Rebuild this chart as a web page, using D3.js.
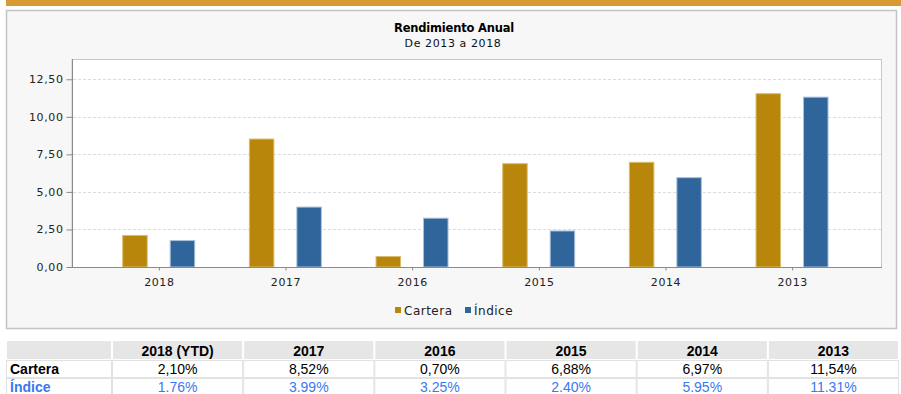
<!DOCTYPE html>
<html>
<head>
<meta charset="utf-8">
<script src="https://cdn.jsdelivr.net/npm/d3@7"></script>
<style>
  html, body { margin: 0; padding: 0; background: #ffffff; }
  svg { display: block; }
  .axis text { font-family: "DejaVu Sans", sans-serif; font-size: 11px; letter-spacing: 0.6px; fill: #222; }
</style>
</head>
<body>
<svg id="chart" width="901" height="394"></svg>
<script>
// Annual returns, portfolio vs. benchmark
const years = ["2018", "2017", "2016", "2015", "2014", "2013"];
const tableHeaders = ["2018 (YTD)", "2017", "2016", "2015", "2014", "2013"];
const series = ["Cartera", "Índice"];
const cartera = [2.10, 8.52, 0.70, 6.88, 6.97, 11.54];
const indice = [1.76, 3.99, 3.25, 2.40, 5.95, 11.31];
const yTicks = [0, 2.5, 5, 7.5, 10, 12.5];
const carteraLabels = ["2,10%", "8,52%", "0,70%", "6,88%", "6,97%", "11,54%"];
const indiceLabels = ["1.76%", "3.99%", "3.25%", "2.40%", "5.95%", "11.31%"];

const colors = { "Cartera": "#b8860b", "Índice": "#30659b" };
const strokes = { "Cartera": "#d9bc6e", "Índice": "#a9c0da" };

const svg = d3.select("#chart");

// header strip
svg.append("rect").attr("x", 6).attr("y", 0).attr("width", 895).attr("height", 6).attr("fill", "#d89b33");

// chart panel
svg.append("rect").attr("x", 6.5).attr("y", 10.5).attr("width", 890).attr("height", 318)
  .attr("fill", "#f7f7f7").attr("stroke", "#c4c4c4").attr("stroke-width", 1.5);

// titles
svg.append("text").attr("x", 454).attr("y", 32).attr("text-anchor", "middle")
  .style("font-family", "DejaVu Sans, sans-serif").style("font-size", "11.5px").style("font-weight", "bold")
  .style("letter-spacing", "-0.2px").attr("fill", "#000").text("Rendimiento Anual");
svg.append("text").attr("x", 453).attr("y", 47).attr("text-anchor", "middle")
  .style("font-family", "DejaVu Sans, sans-serif").style("font-size", "11px")
  .style("letter-spacing", "0.6px").attr("fill", "#111").text("De 2013 a 2018");

// plot area
const plot = { left: 72, right: 882, top: 59, bottom: 267 };
svg.append("rect").attr("x", plot.left).attr("y", plot.top + 0.5)
  .attr("width", plot.right - plot.left - 0.5).attr("height", plot.bottom - plot.top)
  .attr("fill", "#ffffff").attr("stroke", "#c8c8c8").attr("stroke-width", 1);

const y = d3.scaleLinear().domain([0, 13.85]).range([plot.bottom, plot.top]);
const x = d3.scaleBand().domain(years).range([96, 856]).padding(0);
const xs = d3.scaleBand().domain(series).range([26.7, 98.7]).paddingInner(0.484).paddingOuter(0);

// grid
svg.append("g").selectAll("line").data(yTicks.filter(d => d > 0)).join("line")
  .attr("x1", plot.left + 1).attr("x2", plot.right - 1)
  .attr("y1", d => Math.round(y(d)) + 0.5).attr("y2", d => Math.round(y(d)) + 0.5)
  .attr("stroke", "#dcdcdc").attr("stroke-dasharray", "3,2");

// bars
const rows = years.map((yr, i) => ({ year: yr, values: [
  { key: "Cartera", value: cartera[i] }, { key: "Índice", value: indice[i] } ] }));

svg.append("g").selectAll("g").data(rows).join("g")
  .attr("transform", d => `translate(${x(d.year)},0)`)
  .selectAll("rect").data(d => d.values).join("rect")
  .attr("x", d => xs(d.key)).attr("width", xs.bandwidth())
  .attr("y", d => y(d.value)).attr("height", d => y(0) - y(d.value))
  .attr("fill", d => colors[d.key]).attr("stroke", d => strokes[d.key]).attr("stroke-width", 1);

// axes
const yAxis = d3.axisLeft(y).tickValues(yTicks).tickSize(6).tickPadding(3)
  .tickFormat(d => d3.format(".2f")(d).replace(".", ","));
const gy = svg.append("g").attr("class", "axis").attr("transform", `translate(${plot.left + 0.5},0)`).call(yAxis);
gy.select(".domain").attr("stroke", "#8a8a8a").attr("d", `M0,${plot.top}V${plot.bottom}`);
gy.selectAll(".tick line").attr("stroke", "#8a8a8a");

const xAxis = d3.axisBottom(x).tickSize(3).tickPadding(8);
const gx = svg.append("g").attr("class", "axis").attr("transform", `translate(0,${plot.bottom + 0.5})`).call(xAxis);
gx.select(".domain").attr("stroke", "#8a8a8a").attr("d", `M${plot.left},0H${plot.right}`);
gx.selectAll(".tick line").attr("stroke", "#8a8a8a");

// legend
const legend = svg.append("g");
const legendItems = [{ key: "Cartera", x: 395 }, { key: "Índice", x: 465 }];
legendItems.forEach(it => {
  legend.append("rect").attr("x", it.x).attr("y", 307).attr("width", 6).attr("height", 6).attr("fill", colors[it.key]);
  legend.append("text").attr("x", it.x + 9).attr("y", 315)
    .style("font-family", "DejaVu Sans, sans-serif").style("font-size", "12px").style("letter-spacing", "0.5px")
    .attr("fill", "#222").text(it.key);
});

// returns table
const tx = d3.scaleBand().domain(tableHeaders).range([112, 899]);
const tableRows = [
  { label: "", cells: tableHeaders, top: 340, h: 20, bg: "#e6e6e6", color: "#000", bold: true, head: true },
  { label: "Cartera", cells: carteraLabels, top: 360, h: 18, bg: "#ffffff", color: "#000", bold: false },
  { label: "Índice", cells: indiceLabels, top: 378, h: 18, bg: "#ffffff", color: "#3a78f2", bold: false }
];
const tbl = svg.append("g");
tableRows.forEach(r => {
  tbl.append("rect").attr("x", 6.5).attr("y", r.top + 0.5).attr("width", 105).attr("height", r.h - 1)
    .attr("fill", r.bg).attr("stroke", r.head ? "#ffffff" : "#e2e2e2");
  tbl.selectAll(null).data(tableHeaders).enter().append("rect")
    .attr("x", d => tx(d) + 0.5).attr("y", r.top + 0.5).attr("width", tx.bandwidth() - 1).attr("height", r.h - 1)
    .attr("fill", r.bg).attr("stroke", r.head ? "#ffffff" : "#e2e2e2");
  if (r.label) {
    tbl.append("text").attr("x", 10).attr("y", r.top + 14)
      .style("font-family", "Liberation Sans, Arial, sans-serif").style("font-size", "14px").style("font-weight", "bold")
      .attr("fill", r.color).text(r.label);
  }
  tbl.selectAll(null).data(r.cells).enter().append("text")
    .attr("x", (d, i) => tx(tableHeaders[i]) + tx.bandwidth() / 2).attr("y", r.top + (r.head ? 16 : 14))
    .attr("text-anchor", "middle")
    .style("font-family", "Liberation Sans, Arial, sans-serif").style("font-size", "14px")
    .style("font-weight", r.bold ? "bold" : "normal")
    .attr("fill", r.color).text(d => d);
});
</script>
</body>
</html>
